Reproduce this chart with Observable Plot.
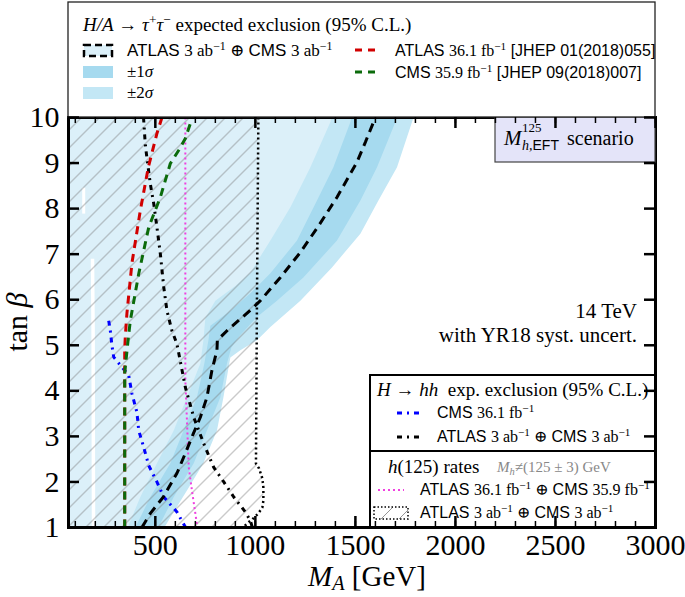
<!DOCTYPE html>
<html><head><meta charset="utf-8">
<script src="https://cdn.jsdelivr.net/npm/d3@7"></script>
<script src="https://cdn.jsdelivr.net/npm/@observablehq/plot@0.6"></script>
<style>body{margin:0;background:#fff} svg{display:block}</style>
</head><body><div id="chart"></div>
<script>
// ---------- data (M_A [GeV], tan beta) ----------
const xTicksMajor = [500, 1000, 1500, 2000, 2500, 3000];
const xTicksMinor = d3.range(100, 3001, 100);
const yTicks = [1, 2, 3, 4, 5, 6, 7, 8, 9, 10];

// ATLAS 3/ab + CMS 3/ab H/A->tautau expected (median), bottom to top
const median = [[433,1.0],[475,1.31],[540,1.67],[608,2.19],[650,2.63],[690,3.06],[725,3.42],[758,3.86],[783,4.45],[808,4.89],[810,5.11],[858,5.32],[983,5.80],[1025,5.98],[1125,6.49],[1225,7.04],[1317,7.63],[1408,8.25],[1508,9.02],[1550,9.46],[1600,10]];
const sig2Low = [[362,1.0],[425,1.67],[508,2.41],[592,3.13],[658,3.86],[725,4.6],[740,5.1],[750,5.6],[800,5.98],[900,6.3],[975,6.6],[1075,7.3],[1175,8.03],[1275,8.91],[1375,9.9],[1380,10]];
const sig1Low = [[400,1.0],[475,1.67],[575,2.41],[641,3.13],[708,3.86],[745,4.6],[765,5.1],[775,5.43],[875,5.76],[975,6.14],[1075,6.58],[1208,7.3],[1308,8.18],[1390,8.91],[1475,9.9],[1480,10]];
const sig1High = [[515,1.0],[592,1.67],[692,2.41],[758,3.13],[825,3.86],[858,4.6],[880,4.95],[920,5.2],[1008,5.62],[1108,5.98],[1240,6.49],[1408,7.3],[1525,8.18],[1608,8.91],[1700,9.9],[1705,10]];
const sig2High = [[545,1.0],[575,1.22],[658,1.81],[740,2.41],[808,3.13],[840,3.85],[855,4.23],[875,4.73],[925,4.89],[1008,5.11],[1075,5.40],[1225,5.98],[1383,6.71],[1525,7.45],[1615,8.18],[1708,8.91],[1783,9.9],[1790,10]];

// h(125) rates, ATLAS 3/ab + CMS 3/ab (hatched region boundary), top to bottom
const hRatesHL = [[1015,10],[1008,6],[1003,2.4],[1018,2.3],[1035,2.08],[1040,1.88],[1040,1.59],[1035,1.44],[1015,1.31],[985,1.18],[965,1.11],[950,1.05],[945,1.0]];
// h(125) rates ATLAS 36.1 + CMS 35.9
const hRatesRun2 = [[650,10],[650,4.23],[658,3.35],[667,2.32],[683,1.81],[700,1.31],[710,1.0]];
// H/A->tautau run-2
const atlas361 = [[347,1],[347,4.9],[350,5.2],[358,5.7],[383,6.8],[425,7.96],[465,8.91],[508,9.65],[533,10]];
const cms359 = [[347,1],[347,4.4],[356,4.78],[366,5.2],[375,5.54],[417,6.57],[467,7.59],[525,8.25],[575,8.99],[617,9.28],[650,9.54],[675,9.87],[682,10]];
// H->hh
const hhCMS361 = [[267,5.54],[275,5.32],[283,5.0],[292,4.74],[367,4.34],[383,3.94],[408,3.53],[417,3.13],[442,2.76],[467,2.36],[508,2.0],[542,1.67],[608,1.34],[650,1.01]];
const hhHL = [[441,10],[450,9.39],[462,8.98],[475,8.54],[492,8.11],[508,7.59],[525,7.01],[542,6.28],[558,5.76],[583,5.32],[608,5.03],[650,4.08],[692,3.42],[742,2.84],[792,2.32],[842,2.0],[892,1.67],[950,1.34],[975,1.15],[985,1.0]];
// small gaps in the excluded-region fill
const gapA = [[142,8.46],[142,7.89]];
const gapB = [[186,6.9],[189,5.3],[191,1]];

// ---------- style ----------
const SERIF = "'Liberation Serif','DejaVu Serif',serif";
const SANS = "'Liberation Sans','DejaVu Sans',sans-serif";
const C_EXCL = "#dcf0f9", C_2S = "#c3e7f5", C_1S = "#a6daef";
const RED = "#d10000", GREEN = "#0b6b0b", BLUE = "#0000ff", MAG = "#f040e0";
const X0 = 66;

const W = 685, H = 597, mL = 68, mR = 30, mT = 117, mB = 70;
const fw = W - mL - mR, fh = H - mT - mB;

const px = d => d[0], py = d => d[1];
const exclPoly = [[X0,1],[X0,10], ...median.slice().reverse()];
const band2 = [...sig2Low, ...sig2High.slice().reverse()];
const band1 = [...sig1Low, ...sig1High.slice().reverse()];
const hatchPoly = [[X0,1],[X0,10], ...hRatesHL];
const LS = {strokeLinecap: "butt", strokeLinejoin: "miter", clip: true};

const chart = Plot.plot({
  width: W, height: H,
  marginLeft: mL, marginRight: mR, marginTop: mT, marginBottom: mB,
  x: {domain: [X0, 3000]},
  y: {domain: [1, 10]},
  style: {fontFamily: SERIF, fontSize: "30px", background: "white", color: "black"},
  marks: [
    Plot.line(exclPoly, {x: px, y: py, fill: C_EXCL, stroke: "none", clip: true}),
    Plot.line(band2, {x: px, y: py, fill: C_2S, stroke: "none", clip: true}),
    Plot.line(band1, {x: px, y: py, fill: C_1S, stroke: "none", clip: true}),
    Plot.line(gapA, {x: px, y: py, stroke: "white", strokeWidth: 3, ...LS}),
    Plot.line(gapB, {x: px, y: py, stroke: "white", strokeWidth: 3.5, ...LS}),
    Plot.line(hatchPoly, {x: px, y: py, fill: "url(#hatch)", stroke: "none", clip: true}),
    Plot.line(hRatesHL, {x: px, y: py, stroke: "black", strokeWidth: 2.5, strokeDasharray: "2,3", ...LS}),
    Plot.line(hRatesRun2, {x: px, y: py, stroke: MAG, strokeWidth: 2, strokeDasharray: "2,3", ...LS}),
    Plot.line(hhCMS361, {x: px, y: py, stroke: BLUE, strokeWidth: 3, strokeDasharray: "5,5,2,5", ...LS}),
    Plot.line(hhHL, {x: px, y: py, stroke: "black", strokeWidth: 3, strokeDasharray: "5,5,2,5", ...LS}),
    Plot.line(atlas361, {x: px, y: py, stroke: RED, strokeWidth: 3, strokeDasharray: "8,6", ...LS}),
    Plot.line(cms359, {x: px, y: py, stroke: GREEN, strokeWidth: 3, strokeDasharray: "8,6", ...LS}),
    Plot.line(median, {x: px, y: py, stroke: "black", strokeWidth: 3, strokeDasharray: "9,6", ...LS}),
    Plot.frame({stroke: "black", strokeWidth: 3}),
    Plot.tickX(xTicksMinor, {x: d => d, insetTop: fh - 6, stroke: "black", strokeWidth: 1.5}),
    Plot.tickX(xTicksMinor, {x: d => d, insetBottom: fh - 6, stroke: "black", strokeWidth: 1.5}),
    Plot.tickX(xTicksMajor, {x: d => d, insetTop: fh - 11, stroke: "black", strokeWidth: 2.5}),
    Plot.tickX(xTicksMajor, {x: d => d, insetBottom: fh - 11, stroke: "black", strokeWidth: 2.5}),
    Plot.tickY(yTicks, {y: d => d, insetRight: fw - 11, stroke: "black", strokeWidth: 2.5}),
    Plot.tickY(yTicks, {y: d => d, insetLeft: fw - 11, stroke: "black", strokeWidth: 2.5}),
    Plot.axisX(xTicksMajor, {tickSize: 0, tickPadding: 6, tickFormat: d => String(d), label: null, fontSize: 30}),
    Plot.axisY(yTicks, {tickSize: 0, tickPadding: 9, tickFormat: d => String(d), label: null, fontSize: 30})
  ]
});

document.getElementById("chart").appendChild(chart);
const svg = d3.select(chart);

// hatch pattern
const defs = svg.insert("defs", ":first-child");
const HS = 18;
const pat = defs.append("pattern").attr("id", "hatch").attr("patternUnits", "userSpaceOnUse")
  .attr("width", HS).attr("height", HS);
pat.append("path").attr("d", `M0,${HS}L${HS},0M-5,5L5,-5M${HS-5},${HS+5}L${HS+5},${HS-5}`)
  .attr("stroke", "#7a7a7a").attr("stroke-width", 0.8).attr("fill", "none");

// rich text helper
function rich(g, x, y, parts, size, opts = {}) {
  const t = g.append("text").attr("x", x).attr("y", y)
    .attr("font-family", SERIF).attr("font-size", size)
    .attr("fill", opts.fill || "black")
    .attr("text-anchor", opts.anchor || "start")
    .style("white-space", "pre");
  if (opts.transform) t.attr("transform", opts.transform);
  let shift = 0;
  for (const p of parts) {
    const s = t.append("tspan").text(p.t);
    if (p.sans) s.attr("font-family", SANS);
    if (p.it) s.attr("font-style", "italic");
    let target = 0;
    if (p.sup) { s.attr("font-size", size * 0.7); target = -size * 0.38; }
    if (p.sub) { s.attr("font-size", size * 0.7); target = size * (opts.subShift || 0.22); }
    if (p.size) s.attr("font-size", p.size);
    if (target !== shift) { s.attr("dy", target - shift); shift = target; }
  }
  return t;
}

const ab3 = [{t: "ATLAS ", sans: true}, {t: "3 ab"}, {t: "−1", sup: true}, {t: " ⊕ "}, {t: "CMS ", sans: true}, {t: "3 ab"}, {t: "−1", sup: true}];

// lower-right legend
const lg = svg.append("g");
lg.append("rect").attr("x", 370).attr("y", 375).attr("width", 655 - 370).attr("height", 527 - 375)
  .attr("fill", "white").attr("stroke", "black").attr("stroke-width", 2);
lg.append("line").attr("x1", 370).attr("x2", 655).attr("y1", 451).attr("y2", 451)
  .attr("stroke", "black").attr("stroke-width", 2);
rich(lg, 377, 396, [{t: "H", it: true}, {t: " → "}, {t: "hh", it: true}, {t: "  exp. exclusion (95% C.L.)"}], 19);
lg.append("line").attr("x1", 397).attr("x2", 422).attr("y1", 413).attr("y2", 413)
  .attr("stroke", BLUE).attr("stroke-width", 3).attr("stroke-dasharray", "5,5,2,5");
rich(lg, 437, 418, [{t: "CMS ", sans: true}, {t: "36.1 fb"}, {t: "−1", sup: true}], 16);
lg.append("line").attr("x1", 397).attr("x2", 422).attr("y1", 437).attr("y2", 437)
  .attr("stroke", "black").attr("stroke-width", 3).attr("stroke-dasharray", "5,5,2,5");
rich(lg, 437, 442, ab3, 16);
rich(lg, 388, 473, [{t: "h", it: true}, {t: "(125) rates"}], 19);
rich(lg, 497, 472, [{t: "M", it: true}, {t: "h", it: true, sub: true}, {t: "≠(125 ± 3) GeV"}], 15, {fill: "#888"});
lg.append("line").attr("x1", 378).attr("x2", 404).attr("y1", 490).attr("y2", 490)
  .attr("stroke", MAG).attr("stroke-width", 2).attr("stroke-dasharray", "2,3");
rich(lg, 420, 495, [{t: "ATLAS ", sans: true}, {t: "36.1 fb"}, {t: "−1", sup: true}, {t: " ⊕ "}, {t: "CMS ", sans: true}, {t: "35.9 fb"}, {t: "−1", sup: true}], 16);
lg.append("rect").attr("x", 374).attr("y", 507).attr("width", 34).attr("height", 12)
  .attr("fill", "url(#hatch)").attr("stroke", "black").attr("stroke-width", 1.5).attr("stroke-dasharray", "1.5,2");
rich(lg, 420, 518, ab3, 16);

// scenario box
const sc = svg.append("g");
sc.append("rect").attr("x", 495).attr("y", 117).attr("width", 160).attr("height", 45)
  .attr("fill", "#e4e4f9").attr("stroke", "#444").attr("stroke-width", 1.2);
rich(sc, 504, 145, [{t: "M", it: true}], 21);
rich(sc, 522, 132, [{t: "125"}], 13);
rich(sc, 522, 150, [{t: "h,", it: true}, {t: "EFT", sans: true}], 14);
rich(sc, 567, 145, [{t: "scenario"}], 20);

// annotations
rich(svg, 637, 318, [{t: "14 TeV"}], 21, {anchor: "end"});
rich(svg, 637, 342, [{t: "with YR18 syst. uncert."}], 21, {anchor: "end"});

// axis titles
rich(svg, 367, 586, [{t: "M", it: true}, {t: "A", it: true, sub: true}, {t: " [GeV]"}], 29, {anchor: "middle", subShift: 0.15});
rich(svg, 0, 0, [{t: "tan "}, {t: "β", it: true}], 30, {anchor: "middle", transform: "translate(27,322) rotate(-90)"});

// top legend
const tg = svg.append("g");
tg.append("rect").attr("x", 68).attr("y", 2).attr("width", 655 - 68).attr("height", 115)
  .attr("fill", "white").attr("stroke", "#222").attr("stroke-width", 1.3);
rich(tg, 83, 31, [{t: "H/A", it: true}, {t: " → "}, {t: "τ", it: true}, {t: "+", sup: true}, {t: "τ", it: true}, {t: "−", sup: true}, {t: " expected exclusion (95% C.L.)"}], 19);
tg.append("rect").attr("x", 84).attr("y", 45).attr("width", 28).attr("height", 11)
  .attr("fill", C_EXCL).attr("stroke", "black").attr("stroke-width", 2.5).attr("stroke-dasharray", "7,4");
rich(tg, 127, 56, ab3, 17);
tg.append("rect").attr("x", 83).attr("y", 66).attr("width", 30).attr("height", 12).attr("fill", C_1S);
rich(tg, 127, 77, [{t: "±1"}, {t: "σ", it: true}], 17);
tg.append("rect").attr("x", 83).attr("y", 87).attr("width", 30).attr("height", 12).attr("fill", C_2S);
rich(tg, 127, 98, [{t: "±2"}, {t: "σ", it: true}], 17);
tg.append("line").attr("x1", 355).attr("x2", 380).attr("y1", 50).attr("y2", 50)
  .attr("stroke", RED).attr("stroke-width", 3).attr("stroke-dasharray", "7,6");
rich(tg, 395, 56, [{t: "ATLAS ", sans: true}, {t: "36.1 fb"}, {t: "−1", sup: true}, {t: " [JHEP 01(2018)055]", sans: true}], 16);
tg.append("line").attr("x1", 355).attr("x2", 380).attr("y1", 72).attr("y2", 72)
  .attr("stroke", GREEN).attr("stroke-width", 3).attr("stroke-dasharray", "7,6");
rich(tg, 395, 78, [{t: "CMS ", sans: true}, {t: "35.9 fb"}, {t: "−1", sup: true}, {t: " [JHEP 09(2018)007]", sans: true}], 16);

// keep tick marks above the legends
svg.selectAll('g[aria-label="tick"]').each(function () { this.parentNode.appendChild(this); });
</script>
</body></html>
